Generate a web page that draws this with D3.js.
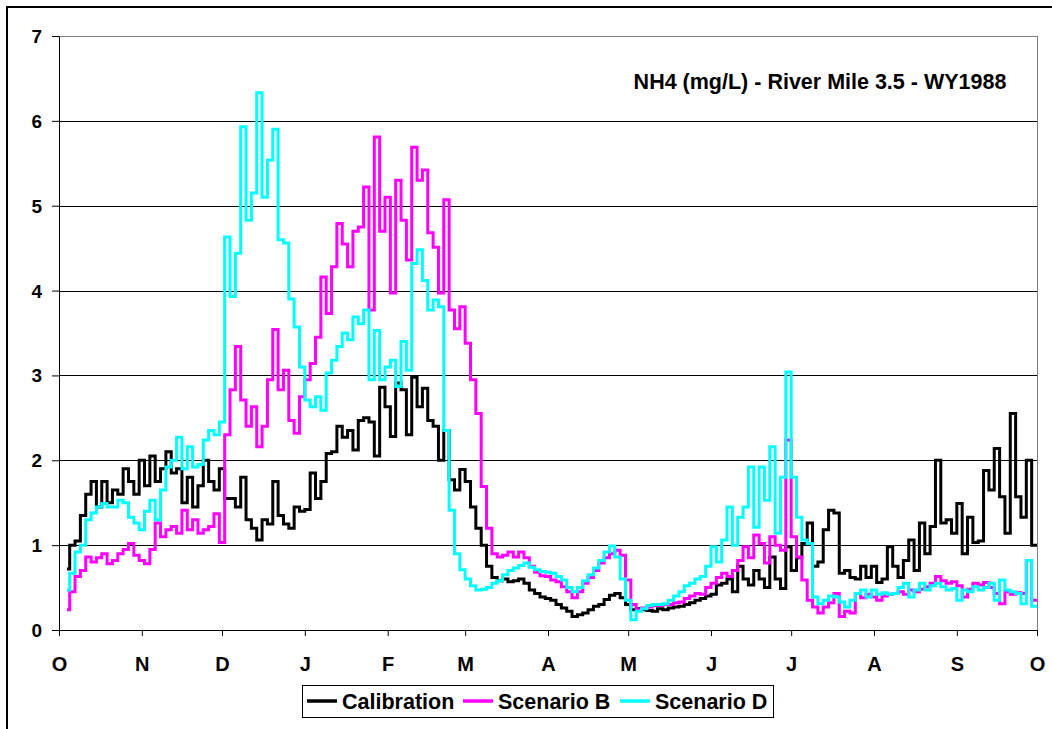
<!DOCTYPE html>
<html><head><meta charset="utf-8">
<script src="https://cdn.jsdelivr.net/npm/d3@7"></script>
<style>
body{margin:0;background:#fff;}
svg{display:block;}
text{font-family:"Liberation Sans",Arial,sans-serif;font-weight:bold;fill:#000;}
</style>
</head><body>
<svg id="chart" width="1052" height="729"></svg>
<script>
// ---------------- DATA ----------------
const titleText = "NH4 (mg/L) - River Mile 3.5 - WY1988";
const monthLabels = ["O","N","D","J","F","M","A","M","J","J","A","S","O"];
const monthStartDays = [0,31,61,92,123,152,183,213,244,274,305,336,366];   // day of water year 1988 (Oct 1 1987 = 0)
const yTicks = [0,1,2,3,4,5,6,7];
const seriesNames = ["Calibration","Scenario B","Scenario D"];
const seriesColors = ["#000000","#ff00ff","#00ffff"];

// sample days: day 3, then every 2nd day from 4 to 364
const sampleDays = [3].concat(d3.range(4, 365, 2));

const calibration = [
  0.72,1.0,1.05,1.35,1.6,1.75,1.45,1.75,1.5,1.65,
  1.6,1.9,1.75,1.6,2.0,1.7,2.05,1.75,1.9,2.1,
  1.85,1.9,1.5,1.8,1.45,1.7,2.0,1.75,1.65,1.9,
  1.55,1.55,1.45,1.8,1.3,1.2,1.06,1.3,1.25,1.75,
  1.35,1.25,1.2,1.45,1.4,1.42,1.85,1.55,1.75,2.08,
  2.1,2.4,2.27,2.35,2.12,2.47,2.5,2.45,2.05,2.86,
  2.63,2.28,2.91,2.83,2.3,2.98,2.63,2.85,2.47,2.4,
  2.0,2.35,1.77,1.65,1.89,1.75,1.45,1.2,1.0,0.75,
  0.62,0.58,0.6,0.57,0.58,0.6,0.55,0.47,0.43,0.39,
  0.37,0.35,0.3,0.26,0.22,0.16,0.18,0.2,0.24,0.28,
  0.3,0.36,0.41,0.43,0.38,0.3,0.24,0.25,0.24,0.23,
  0.22,0.25,0.24,0.26,0.27,0.28,0.3,0.32,0.35,0.37,
  0.4,0.42,0.53,0.55,0.6,0.45,0.75,0.6,0.53,0.7,
  0.6,0.5,0.86,0.6,0.49,0.98,0.7,0.85,1.02,1.26,
  0.75,0.8,1.18,1.41,1.38,0.67,0.7,0.62,0.6,0.75,
  0.62,0.75,0.56,0.6,0.98,0.75,0.62,0.82,1.06,0.7,
  1.26,0.9,1.22,2.0,1.26,1.3,1.14,1.49,0.9,1.33,
  1.03,1.05,1.88,1.65,2.14,1.57,1.14,2.55,1.57,1.33,
  2.0,1.0
];

const scenarioB = [
  0.24,0.45,0.63,0.7,0.86,0.8,0.85,0.9,0.78,0.82,
  0.9,0.95,1.02,0.88,0.82,0.78,0.95,1.26,1.1,1.18,
  1.22,1.14,1.41,1.18,1.3,1.14,1.18,1.22,1.37,1.03,
  2.3,2.83,3.34,2.71,2.4,2.63,2.16,2.4,2.95,3.54,
  2.83,3.06,2.47,2.32,2.75,2.95,3.14,3.45,4.16,3.73,
  4.28,4.79,4.55,4.28,4.7,4.75,5.22,3.77,5.81,4.7,
  5.1,3.97,5.3,4.83,4.36,5.69,5.3,5.42,4.68,4.51,
  3.97,5.07,3.77,3.55,3.81,3.38,2.95,2.55,1.69,1.2,
  0.9,0.86,0.88,0.92,0.86,0.92,0.85,0.75,0.68,0.64,
  0.63,0.59,0.57,0.51,0.45,0.38,0.45,0.55,0.62,0.7,
  0.79,0.85,0.9,0.94,0.88,0.59,0.3,0.24,0.26,0.27,
  0.29,0.29,0.3,0.3,0.32,0.33,0.37,0.4,0.43,0.42,
  0.5,0.55,0.62,0.67,0.63,0.7,0.82,0.98,0.85,1.12,
  1.02,0.79,1.1,1.0,0.94,2.24,1.1,0.86,0.59,0.35,
  0.27,0.2,0.27,0.32,0.43,0.16,0.22,0.2,0.43,0.38,
  0.42,0.39,0.35,0.4,0.42,0.43,0.45,0.42,0.47,0.45,
  0.48,0.51,0.55,0.63,0.58,0.55,0.57,0.52,0.39,0.48,
  0.55,0.53,0.56,0.5,0.43,0.31,0.45,0.42,0.44,0.43,
  0.82,0.35
];

const scenarioD = [
  0.47,0.67,0.92,1.0,1.3,1.38,1.45,1.49,1.45,1.45,
  1.53,1.5,1.33,1.26,1.18,1.4,1.53,1.3,1.65,1.92,
  2.0,2.27,1.9,2.16,1.92,1.95,2.24,2.35,2.3,2.45,
  4.63,3.93,4.44,5.93,4.83,5.15,6.33,5.1,5.54,5.9,
  4.6,4.56,3.9,3.57,3.1,2.71,2.63,2.75,2.59,3.03,
  3.18,3.34,3.5,3.42,3.69,3.61,3.77,2.95,3.53,2.95,
  3.1,3.18,2.87,3.4,3.06,4.32,4.48,4.12,3.77,3.89,
  3.81,2.35,1.41,0.9,0.71,0.6,0.52,0.47,0.48,0.5,
  0.55,0.58,0.65,0.7,0.73,0.76,0.79,0.74,0.71,0.69,
  0.68,0.67,0.63,0.59,0.5,0.45,0.5,0.58,0.65,0.73,
  0.82,0.92,0.99,0.86,0.6,0.35,0.12,0.22,0.25,0.29,
  0.3,0.3,0.31,0.35,0.4,0.45,0.52,0.55,0.6,0.63,
  0.75,0.98,0.8,1.06,1.45,1.0,1.33,1.45,1.92,1.21,
  1.92,1.53,2.16,1.14,1.8,3.04,1.8,1.33,1.06,1.02,
  0.39,0.31,0.35,0.4,0.39,0.33,0.27,0.35,0.43,0.47,
  0.39,0.47,0.42,0.44,0.42,0.43,0.5,0.55,0.39,0.47,
  0.55,0.47,0.52,0.55,0.51,0.47,0.49,0.35,0.47,0.45,
  0.51,0.47,0.5,0.55,0.35,0.59,0.47,0.45,0.43,0.31,
  0.82,0.28
];

// ---------------- LAYOUT ----------------
const svg = d3.select("#chart");
const plot = {left: 59, right: 1037, top: 36, bottom: 630};
const x = d3.scaleLinear().domain([0, 366]).range([plot.left, plot.right]);
const y = d3.scaleLinear().domain([0, 7]).range([plot.bottom, plot.top]);

// outer chart frame
svg.append("rect").attr("x", 7).attr("y", 7).attr("width", 1200).attr("height", 900)
  .attr("fill", "#fff").attr("stroke", "#000").attr("stroke-width", 2);

// plot area border
svg.append("rect").attr("x", plot.left + 0.5).attr("y", plot.top + 0.5)
  .attr("width", plot.right - plot.left).attr("height", plot.bottom - plot.top)
  .attr("fill", "none").attr("stroke", "#808080").attr("stroke-width", 1);

// gridlines
svg.append("g").selectAll("line").data(yTicks.filter(d => d > 0 && d < 7)).join("line")
  .attr("x1", plot.left).attr("x2", plot.right)
  .attr("y1", d => Math.round(y(d)) + 0.5).attr("y2", d => Math.round(y(d)) + 0.5)
  .attr("stroke", "#000").attr("stroke-width", 1);

// series
const allSeries = [calibration, scenarioB, scenarioD];
const line = d3.line().x(d => x(d[0])).y(d => y(d[1])).curve(d3.curveStepAfter);
allSeries.forEach((vals, i) => {
  const pts = sampleDays.map((d, j) => [d, vals[j]]);
  pts.push([366, vals[vals.length - 1]]);
  svg.append("path").datum(pts)
    .attr("fill", "none").attr("stroke", seriesColors[i]).attr("stroke-width", 3)
    .attr("stroke-linejoin", "miter").attr("d", line);
});

// axes
const yAxis = d3.axisLeft(y).tickValues(yTicks).tickSize(7).tickSizeOuter(0).tickPadding(10).tickFormat(d3.format("d"));
const gy = svg.append("g").attr("transform", `translate(${plot.left},0)`).call(yAxis);
gy.selectAll("text").style("font-size", "19px").attr("dy", "0.34em");
gy.selectAll("line,path").attr("stroke", "#000");

const xAxis = d3.axisBottom(x).tickValues(monthStartDays).tickSize(6).tickSizeOuter(0).tickPadding(21)
  .tickFormat((d, i) => monthLabels[i]);
const gx = svg.append("g").attr("transform", `translate(0,${plot.bottom})`).call(xAxis);
gx.selectAll("text").style("font-size", "20px");
gx.selectAll("line,path").attr("stroke", "#000");

// title
svg.append("text").attr("x", 820).attr("y", 89).attr("text-anchor", "middle")
  .style("font-size", "21.5px").text(titleText);

// legend
const legend = {x: 302, y: 685, w: 471, h: 32};
svg.append("rect").attr("x", legend.x + 0.5).attr("y", legend.y + 0.5)
  .attr("width", legend.w).attr("height", legend.h)
  .attr("fill", "#fff").attr("stroke", "#000").attr("stroke-width", 1);
const legendItemX = [307, 463, 620];
seriesNames.forEach((name, i) => {
  const lx = legendItemX[i];
  svg.append("line").attr("x1", lx).attr("x2", lx + 30)
    .attr("y1", legend.y + 16).attr("y2", legend.y + 16)
    .attr("stroke", seriesColors[i]).attr("stroke-width", 3.5);
  svg.append("text").attr("x", lx + 35).attr("y", legend.y + 24)
    .style("font-size", "21.5px").text(name);
});
</script>
</body></html>
